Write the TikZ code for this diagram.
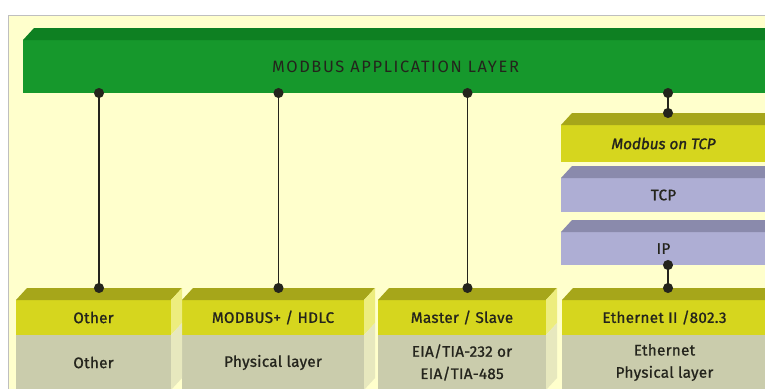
\documentclass[tikz,border=0pt]{standalone}
\usepackage{fontspec}
\setmainfont{Fira Sans}
\usetikzlibrary{calc,arrows.meta}
\definecolor{paper}{RGB}{255,255,204}
\definecolor{appgreen}{RGB}{22,152,44}
\definecolor{appgreentop}{RGB}{14,128,34}
\definecolor{protoyellow}{RGB}{214,214,30}
\definecolor{protoyellowtop}{RGB}{166,166,26}
\definecolor{netlilac}{RGB}{174,174,212}
\definecolor{netlilactop}{RGB}{138,138,172}
\definecolor{phygray}{RGB}{202,204,172}
\definecolor{inkgray}{RGB}{36,36,28}

\begin{document}
\begin{tikzpicture}[x=0.03cm, y=-0.03cm,
  slab/.style={rectangle, inner sep=0pt, outer sep=0pt, anchor=north west, text=inkgray, align=center,
               font=\fontsize{13}{19}\selectfont\addfontfeature{FakeBold=1,LetterSpace=2}},
  wd/.style={minimum width=#1*0.03cm},
  ht/.style={minimum height=#1*0.03cm},
  link/.style={line width=1.4pt, draw=inkgray, {Circle[length=8.5pt]}-{Circle[length=8.5pt]}, shorten <=-4.25pt, shorten >=-4.25pt}
]
\useasboundingbox (0,0) rectangle (765,388);
\clip (0,0) rectangle (765,388);
\fill[paper, draw=black!25] (8,15) rectangle (780,400);

% application layer
\node[slab, fill=appgreen, wd=745, ht=53, font=\fontsize{14}{16}\selectfont\addfontfeature{LetterSpace=10}] (app) at (23,40) {MODBUS APPLICATION LAYER};

% tcp/ip stack
\node[slab, fill=protoyellow, wd=205, ht=37, font=\fontsize{13}{15}\selectfont\itshape\addfontfeature{FakeBold=1.5}] (mtcp) at (561,125) {Modbus on TCP};
\node[slab, fill=netlilac, wd=205, ht=34] (tcp) at (561,178) {TCP};
\node[slab, fill=netlilac, wd=205, ht=33] (ip) at (561,232) {IP};

% data link + physical
\node[slab, fill=protoyellow, wd=155, ht=35] (b1) at (16,300) {Other};
\node[slab, fill=phygray, wd=155, ht=55] (g1) at (16,335) {Other};
\node[slab, fill=protoyellow, wd=182, ht=35] (b2) at (182,300) {MODBUS+ / HDLC};
\node[slab, fill=phygray, wd=182, ht=55] (g2) at (182,335) {Physical layer};
\node[slab, fill=protoyellow, wd=168, ht=35] (b3) at (378,300) {Master / Slave};
\node[slab, fill=phygray, wd=168, ht=55] (g3) at (378,335) {EIA/TIA-232 or\\EIA/TIA-485};
\node[slab, fill=protoyellow, wd=205, ht=35] (b4) at (562,300) {Ethernet II /802.3};
\node[slab, fill=phygray, wd=205, ht=55] (g4) at (562,335) {Ethernet\\Physical layer};

% top faces
\foreach \n/\c in {app/appgreentop, mtcp/protoyellowtop, tcp/netlilactop, ip/netlilactop,
                   b1/protoyellowtop, b2/protoyellowtop, b3/protoyellowtop, b4/protoyellowtop}
  \fill[\c] (\n.north west) -- ++(11,-12) -- ($(\n.north east)+(11,-12)$) -- (\n.north east) -- cycle;

% side faces
\foreach \n/\g in {b1/g1, b2/g2, b3/g3} {
  \fill[protoyellow!45!paper] (\n.north east) -- ++(11,-12) -- ($(\n.south east)+(11,-12)$) -- (\n.south east) -- cycle;
  \fill[phygray!45!paper] (\g.north east) -- ++(11,-12) -- ($(\g.south east)+(11,-12)$) -- (\g.south east) -- cycle;
}

% links
\foreach \n in {b1, b2, b3}
  \coordinate (\n t) at ($(\n.north)+(5.5,-12)$);
\coordinate (mtcpt) at ($(mtcp.north west)+(107,-12)$);
\coordinate (b4t) at ($(b4.north west)+(106,-12)$);
\draw[link] (app.south -| b1t) -- (b1t);
\draw[link] (app.south -| b2t) -- (b2t);
\draw[link] (app.south -| b3t) -- (b3t);
\draw[link] (app.south -| mtcpt) -- (mtcpt);
\draw[link] (ip.south -| b4t) -- (b4t);
\end{tikzpicture}
\end{document}
